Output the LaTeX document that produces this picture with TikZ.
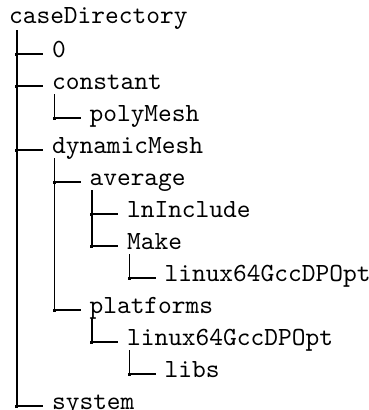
\documentclass[tikz,border=0pt]{standalone}
\usetikzlibrary{calc}
\tikzset{
  dir/.style={anchor=base west,inner sep=0pt},
  branch/.style={line width=0.5pt},
}
\begin{document}
\begin{tikzpicture}[x=0.382pt,y=-0.382pt,font=\ttfamily]
  \useasboundingbox (0,0) rectangle (369,410);
  \node[dir] (root) at (8.5,23) {caseDirectory};
  \foreach \name/\lvl/\row/\label in {zero/1/1/0, constant/1/2/constant,
      polyMesh/2/3/polyMesh, dynamicMesh/1/4/dynamicMesh, average/2/5/average,
      lnInclude/3/6/lnInclude, Make/3/7/Make, linuxA/4/8/linux64GccDPOpt,
      platforms/2/9/platforms, linuxB/3/10/linux64GccDPOpt, libs/4/11/libs,
      system/1/12/system} {
    \node[dir] (\name) at ({14+37.5*\lvl},{57.5+32*(\row-1)}) {\label};
  }
  % tops of the vertical lines
  \coordinate (root-s) at ($(root.base west)+(8.5,7)$);
  \foreach \parent in {constant,dynamicMesh,average,Make,platforms,linuxB}
    \coordinate (\parent-s) at ($(\parent.base west)+(3,4.5)$);
  % branches
  \foreach \parent/\child in {root/zero, root/constant, root/dynamicMesh,
      root/system, constant/polyMesh, dynamicMesh/average,
      dynamicMesh/platforms, average/lnInclude, average/Make, Make/linuxA,
      platforms/linuxB, linuxB/libs} {
    \draw[branch] (\parent-s) |- ($(\child.base west)+(-8,-3.5)$);
    \fill ($(\parent-s |- \child.base west)+(-1.5,-5)$) rectangle +(3,3);
  }
\end{tikzpicture}
\end{document}
